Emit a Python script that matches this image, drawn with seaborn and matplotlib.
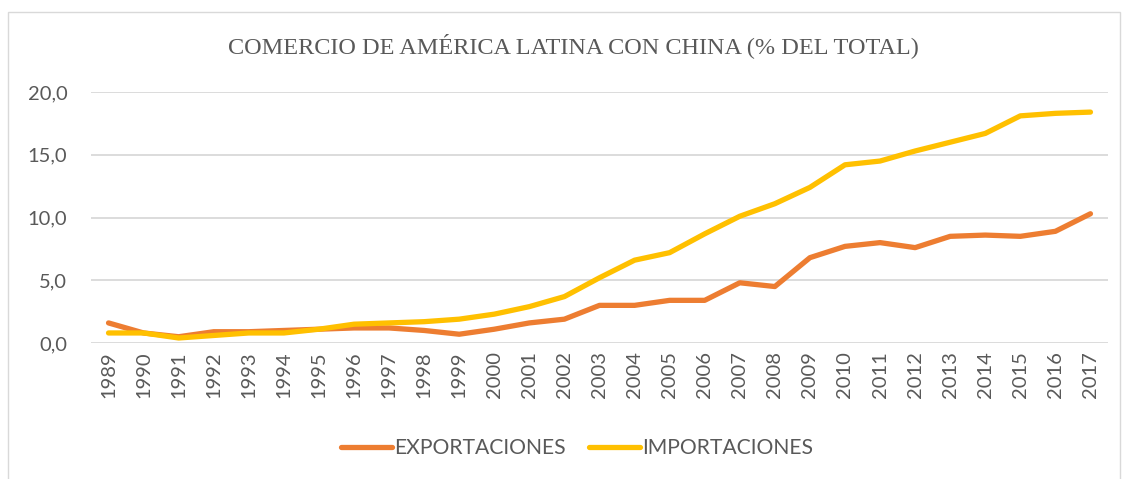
import numpy as np
import pandas as pd
import matplotlib
matplotlib.use("Agg")
import matplotlib.pyplot as plt
import seaborn as sns
from matplotlib.patches import Rectangle
from matplotlib.ticker import FuncFormatter

years = list(range(1989, 2018))
exportaciones = [1.6, 0.8, 0.5, 0.9, 0.9, 1.0, 1.1, 1.2, 1.2, 1.0, 0.7, 1.1, 1.6, 1.9,
                 3.0, 3.0, 3.4, 3.4, 4.8, 4.5, 6.8, 7.7, 8.0, 7.6, 8.5, 8.6, 8.5, 8.9, 10.3]
importaciones = [0.8, 0.8, 0.4, 0.6, 0.8, 0.8, 1.1, 1.5, 1.6, 1.7, 1.9, 2.3, 2.9, 3.7,
                 5.2, 6.6, 7.2, 8.7, 10.1, 11.1, 12.4, 14.2, 14.5, 15.3, 16.0, 16.7, 18.1, 18.3, 18.4]

df = pd.DataFrame({"year": years * 2,
                   "valor": exportaciones + importaciones,
                   "serie": ["EXPORTACIONES"] * len(years) + ["IMPORTACIONES"] * len(years)})

sns.set_theme(style="white")
plt.rcParams['font.family'] = ['Lato', 'DejaVu Sans']

fig = plt.figure(figsize=(11.29, 4.79), dpi=100)
ax = fig.add_axes([0.0806, 0.2839, 0.9008, 0.524])

sns.lineplot(data=df, x="year", y="valor", hue="serie",
             palette={"EXPORTACIONES": "#ED7D31", "IMPORTACIONES": "#FFC000"},
             linewidth=3.8, ax=ax, solid_capstyle="round")

ax.set_xlim(1988.5, 2017.5)
ax.set_ylim(0, 20)
ax.set_yticks([0, 5, 10, 15, 20])
ax.yaxis.set_major_formatter(FuncFormatter(lambda v, p: f"{v:.1f}".replace(".", ",")))
ax.set_xticks(years)
ax.set_xticklabels([str(y) for y in years], rotation=90)
ax.grid(axis="y", color="#D9D9D9", linewidth=1.3)
ax.set_axisbelow(True)
for s in ax.spines.values():
    s.set_visible(False)
ax.tick_params(axis="x", length=0, labelsize=14.5, colors="#595959", pad=6)
ax.tick_params(axis="y", length=0, labelsize=14.5, colors="#595959", pad=17)
ax.set_xlabel("")
ax.set_ylabel("")

ax.legend(loc="center", bbox_to_anchor=(0.478, -0.42), ncol=2, frameon=False,
          fontsize=15.2, labelcolor="#595959", handlelength=2.4, handletextpad=0.1,
          columnspacing=1.1)

fig.text(0.508, 0.905, "COMERCIO DE AMÉRICA LATINA CON CHINA (% DEL TOTAL)",
         ha="center", va="center", fontsize=17.5, color="#595959",
         family=["Liberation Serif", "DejaVu Serif"])

fig.patches.append(Rectangle((8 / 1129, -0.05), 1112 / 1129, 1.05 - 12 / 479,
                             transform=fig.transFigure, fill=False,
                             edgecolor="#D9D9D9", linewidth=1.0))

fig.savefig("out.png", dpi=100)
